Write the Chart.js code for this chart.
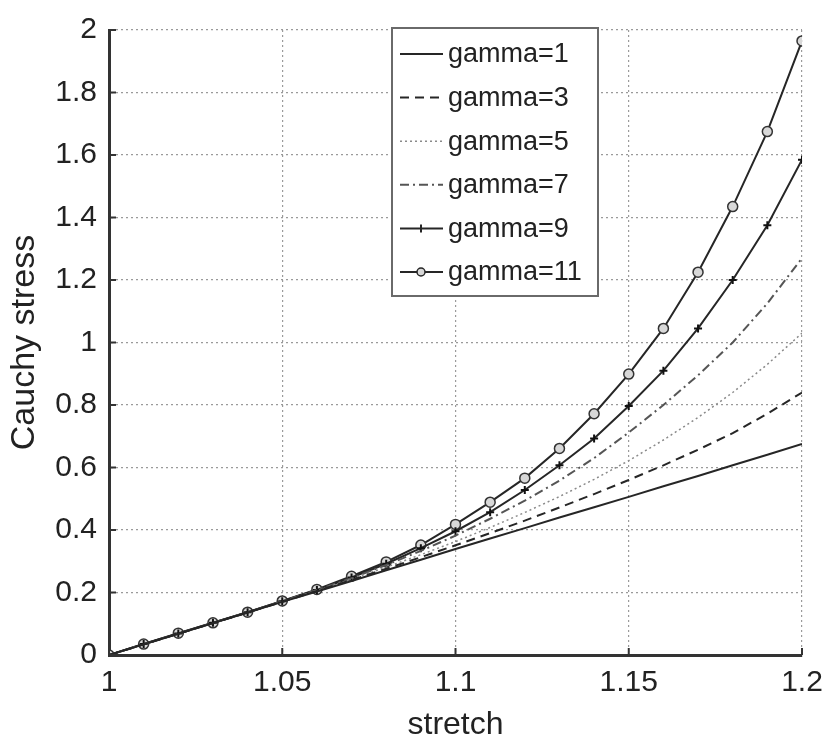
<!DOCTYPE html>
<html>
<head>
<meta charset="utf-8">
<script src="https://cdn.jsdelivr.net/npm/chart.js@4/dist/chart.umd.min.js"></script>
<style>
  body { margin: 0; background: #fff; }
</style>
</head>
<body>
<canvas id="grafico" width="828" height="741"></canvas>
<script>
// dados
const stretch = [1.00, 1.01, 1.02, 1.03, 1.04, 1.05, 1.06, 1.07, 1.08, 1.09, 1.10,
                 1.11, 1.12, 1.13, 1.14, 1.15, 1.16, 1.17, 1.18, 1.19, 1.20]

const gamma1  = [0, 0.034, 0.068, 0.102, 0.136, 0.170, 0.203, 0.237, 0.271, 0.305, 0.339,
                 0.373, 0.406, 0.440, 0.473, 0.506, 0.540, 0.573, 0.607, 0.641, 0.675]
const gamma3  = [0, 0.034, 0.068, 0.102, 0.136, 0.170, 0.205, 0.240, 0.276, 0.313, 0.351,
                 0.390, 0.430, 0.472, 0.515, 0.560, 0.607, 0.657, 0.710, 0.772, 0.840]
const gamma5  = [0, 0.034, 0.068, 0.102, 0.136, 0.171, 0.206, 0.243, 0.281, 0.321, 0.363,
                 0.408, 0.456, 0.507, 0.562, 0.622, 0.688, 0.760, 0.840, 0.930, 1.030]
const gamma7  = [0, 0.034, 0.068, 0.102, 0.137, 0.172, 0.208, 0.246, 0.288, 0.333, 0.382,
                 0.436, 0.494, 0.558, 0.630, 0.712, 0.800, 0.895, 1.000, 1.125, 1.270]
const gamma9  = [0, 0.035, 0.069, 0.103, 0.137, 0.172, 0.208, 0.248, 0.292, 0.342, 0.396,
                 0.457, 0.528, 0.607, 0.693, 0.797, 0.910, 1.045, 1.200, 1.375, 1.585]
const gamma11 = [0, 0.035, 0.070, 0.103, 0.137, 0.173, 0.210, 0.252, 0.298, 0.352, 0.418,
                 0.489, 0.566, 0.661, 0.772, 0.899, 1.045, 1.225, 1.435, 1.675, 1.965]

const xTicks = [1, 1.05, 1.1, 1.15, 1.2]
const xTickLabels = ['1', '1.05', '1.1', '1.15', '1.2']
const yTicks = [0, 0.2, 0.4, 0.6, 0.8, 1, 1.2, 1.4, 1.6, 1.8, 2]
const yTickLabels = ['0', '0.2', '0.4', '0.6', '0.8', '1', '1.2', '1.4', '1.6', '1.8', '2']

const fonte = '"Liberation Sans", Arial, Helvetica, sans-serif'
const cor = '#222'

const pontos = (serie) => stretch.map((s, i) => ({ x: s, y: serie[i] }))

const serie = (label, valores, estilo) => Object.assign({
    label: label,
    data: pontos(valores),
    borderColor: '#262626',
    backgroundColor: '#262626',
    borderWidth: 2,
    pointRadius: 0,
    tension: 0,
    fill: false
}, estilo)

// legenda desenhada a mao, estilo matlab
const legendaPlugin = {
    id: 'legendaBox',
    afterDraw(chart) {
        const ctx = chart.ctx
        const bx = 392, by = 28, bw = 206, bh = 268
        ctx.save()
        ctx.fillStyle = '#fff'
        ctx.fillRect(bx, by, bw, bh)
        ctx.strokeStyle = '#6a6a6a'
        ctx.lineWidth = 2
        ctx.strokeRect(bx, by, bw, bh)
        ctx.font = '27px ' + fonte
        ctx.textBaseline = 'middle'
        chart.data.datasets.forEach((ds, i) => {
            const y = by + 26 + i * 43.6
            ctx.strokeStyle = ds.borderColor
            ctx.lineWidth = ds.borderWidth
            ctx.setLineDash(ds.borderDash || [])
            ctx.beginPath()
            ctx.moveTo(400, y)
            ctx.lineTo(443, y)
            ctx.stroke()
            ctx.setLineDash([])
            if (ds.pointStyle === 'cross') {
                ctx.lineWidth = 2
                ctx.beginPath()
                ctx.moveTo(421, y - 4)
                ctx.lineTo(421, y + 4)
                ctx.stroke()
            } else if (ds.pointStyle === 'circle' && ds.pointRadius > 0) {
                ctx.fillStyle = ds.pointBackgroundColor
                ctx.lineWidth = 1.5
                ctx.beginPath()
                ctx.arc(421, y, 4, 0, Math.PI * 2)
                ctx.fill()
                ctx.stroke()
            }
            ctx.fillStyle = cor
            ctx.fillText(ds.label, 448, y + 1)
        })
        ctx.restore()
    }
}

// tracinhos internos dos eixos
const ticksPlugin = {
    id: 'ticksInternos',
    afterDatasetsDraw(chart) {
        const ctx = chart.ctx
        const { left, bottom } = chart.chartArea
        const sx = chart.scales.x, sy = chart.scales.y
        ctx.save()
        ctx.strokeStyle = '#333'
        ctx.lineWidth = 2
        xTicks.forEach(v => {
            const px = sx.getPixelForValue(v)
            ctx.beginPath()
            ctx.moveTo(px, bottom)
            ctx.lineTo(px, bottom - 7)
            ctx.stroke()
        })
        yTicks.forEach(v => {
            const py = sy.getPixelForValue(v)
            ctx.beginPath()
            ctx.moveTo(left, py)
            ctx.lineTo(left + 7, py)
            ctx.stroke()
        })
        ctx.restore()
    }
}

new Chart(document.getElementById('grafico'), {
    type: 'line',
    data: {
        datasets: [
            serie('gamma=1', gamma1, {}),
            serie('gamma=3', gamma3, { borderDash: [9, 6] }),
            serie('gamma=5', gamma5, { borderDash: [2, 3], borderColor: '#8a8a8a', borderWidth: 1.5 }),
            serie('gamma=7', gamma7, { borderDash: [9, 4, 2, 4], borderColor: '#555' }),
            serie('gamma=9', gamma9, { pointStyle: 'cross', pointRadius: 4, pointBorderWidth: 2,
                                       pointBorderColor: '#111' }),
            serie('gamma=11', gamma11, { pointStyle: 'circle', pointRadius: 5, pointBorderWidth: 1.5,
                                         pointBorderColor: '#333', pointBackgroundColor: '#d8d8d8' })
        ]
    },
    options: {
        responsive: false,
        animation: false,
        layout: { padding: { top: 23, right: 26, left: 0, bottom: 0 } },
        plugins: {
            legend: { display: false },
            tooltip: { enabled: false }
        },
        scales: {
            x: {
                type: 'linear',
                min: 1,
                max: 1.2,
                afterFit: (scale) => {
                    scale.height = 86
                    scale.paddingRight = 26
                    scale.paddingLeft = 0
                },
                afterBuildTicks: (scale) => { scale.ticks = xTicks.map(v => ({ value: v })) },
                ticks: {
                    color: cor,
                    padding: 10,
                    font: { family: fonte, size: 30 },
                    callback: (v, i) => xTickLabels[i]
                },
                grid: { color: '#9a9a9a', lineWidth: 1.2, drawTicks: false },
                border: { display: true, color: '#333', width: 3, dash: [2, 3] },
                title: {
                    display: true,
                    text: 'stretch',
                    color: cor,
                    font: { family: fonte, size: 32, lineHeight: 1 },
                    padding: { top: 0, bottom: 0 }
                }
            },
            y: {
                type: 'linear',
                min: 0,
                max: 2,
                afterFit: (scale) => { scale.width = 109 },
                afterBuildTicks: (scale) => { scale.ticks = yTicks.map(v => ({ value: v })) },
                ticks: {
                    color: cor,
                    padding: 12,
                    font: { family: fonte, size: 30 },
                    callback: (v, i) => yTickLabels[i]
                },
                grid: { color: '#9a9a9a', lineWidth: 1.2, drawTicks: false },
                border: { display: true, color: '#333', width: 3, dash: [2, 3] },
                title: {
                    display: true,
                    text: 'Cauchy stress',
                    color: cor,
                    font: { family: fonte, size: 34, lineHeight: 1 },
                    padding: { top: 8, bottom: 0 }
                }
            }
        }
    },
    plugins: [legendaPlugin, ticksPlugin]
})
</script>
</body>
</html>
